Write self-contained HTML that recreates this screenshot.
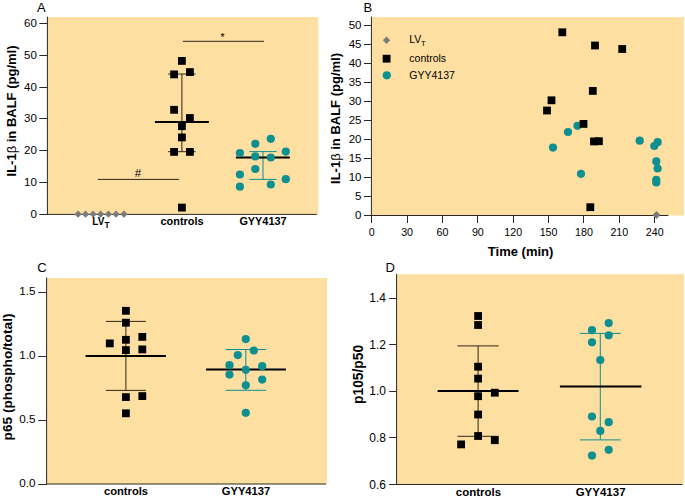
<!DOCTYPE html>
<html><head><meta charset="utf-8"><style>
html,body{margin:0;padding:0;background:#fff;}
body{width:685px;height:498px;overflow:hidden;}
svg{display:block;font-family:"Liberation Sans", sans-serif;}
</style></head><body>
<svg width="685" height="498" viewBox="0 0 685 498">
<rect width="685" height="498" fill="#fff"/>
<rect x="47.4" y="17" width="270.9" height="197.4" fill="#FDDFA1"/>
<line x1="39.3" y1="214.5" x2="47.4" y2="214.5" stroke="#2b2722" stroke-width="1"/>
<text x="36.9" y="218" font-size="11.5" text-anchor="end" font-weight="normal" fill="#000">0</text>
<line x1="39.3" y1="182.5" x2="47.4" y2="182.5" stroke="#2b2722" stroke-width="1"/>
<text x="36.9" y="186.15" font-size="11.5" text-anchor="end" font-weight="normal" fill="#000">10</text>
<line x1="39.3" y1="150.5" x2="47.4" y2="150.5" stroke="#2b2722" stroke-width="1"/>
<text x="36.9" y="154.3" font-size="11.5" text-anchor="end" font-weight="normal" fill="#000">20</text>
<line x1="39.3" y1="118.5" x2="47.4" y2="118.5" stroke="#2b2722" stroke-width="1"/>
<text x="36.9" y="122.45" font-size="11.5" text-anchor="end" font-weight="normal" fill="#000">30</text>
<line x1="39.3" y1="87.5" x2="47.4" y2="87.5" stroke="#2b2722" stroke-width="1"/>
<text x="36.9" y="90.6" font-size="11.5" text-anchor="end" font-weight="normal" fill="#000">40</text>
<line x1="39.3" y1="55.5" x2="47.4" y2="55.5" stroke="#2b2722" stroke-width="1"/>
<text x="36.9" y="58.75" font-size="11.5" text-anchor="end" font-weight="normal" fill="#000">50</text>
<line x1="39.3" y1="23.5" x2="47.4" y2="23.5" stroke="#2b2722" stroke-width="1"/>
<text x="36.9" y="26.9" font-size="11.5" text-anchor="end" font-weight="normal" fill="#000">60</text>
<line x1="47.4" y1="16.6" x2="47.4" y2="214.8" stroke="#2b2722" stroke-width="1"/>
<line x1="47" y1="214.4" x2="316.9" y2="214.4" stroke="#2b2722" stroke-width="1"/>
<text transform="translate(16.2,111) rotate(-90)" font-size="13" text-anchor="middle" font-weight="bold">IL-1<tspan font-weight="normal">&#946;</tspan> in BALF (pg/ml)</text>
<text x="37" y="11.8" font-size="13" text-anchor="start" font-weight="normal" fill="#000">A</text>
<line x1="97.8" y1="179.4" x2="179" y2="179.4" stroke="#2e2619" stroke-width="1"/>
<text x="137.9" y="177.2" font-size="11.5" text-anchor="middle" font-weight="normal" fill="#000">#</text>
<line x1="182.9" y1="41.3" x2="264" y2="41.3" stroke="#2e2619" stroke-width="1"/>
<text x="222.5" y="41.2" font-size="10.5" text-anchor="middle" font-weight="normal" fill="#000">*</text>
<line x1="181.9" y1="74" x2="181.9" y2="151.7" stroke="#2e2619" stroke-width="1"/>
<line x1="168.2" y1="74" x2="195.6" y2="74" stroke="#2e2619" stroke-width="1"/>
<line x1="168.2" y1="151.7" x2="195.6" y2="151.7" stroke="#2e2619" stroke-width="1"/>
<line x1="154.9" y1="122.1" x2="208.9" y2="122.1" stroke="#000" stroke-width="2"/>
<rect x="178" y="57" width="7.8" height="7.8" fill="#000"/>
<rect x="170.2" y="70.5" width="7.8" height="7.8" fill="#000"/>
<rect x="186" y="68.2" width="7.8" height="7.8" fill="#000"/>
<rect x="170.2" y="105.9" width="7.8" height="7.8" fill="#000"/>
<rect x="186" y="114.1" width="7.8" height="7.8" fill="#000"/>
<rect x="178" y="122.3" width="7.8" height="7.8" fill="#000"/>
<rect x="178" y="133.5" width="7.8" height="7.8" fill="#000"/>
<rect x="170.2" y="148" width="7.8" height="7.8" fill="#000"/>
<rect x="186" y="148" width="7.8" height="7.8" fill="#000"/>
<rect x="178" y="203.7" width="7.8" height="7.8" fill="#000"/>
<line x1="263" y1="151.6" x2="263" y2="179.4" stroke="#0E9090" stroke-width="1"/>
<line x1="249.35" y1="151.6" x2="276.65" y2="151.6" stroke="#0E9090" stroke-width="1"/>
<line x1="249.35" y1="179.4" x2="276.65" y2="179.4" stroke="#0E9090" stroke-width="1"/>
<line x1="235.9" y1="157.5" x2="289.8" y2="157.5" stroke="#000" stroke-width="2"/>
<circle cx="239.9" cy="153.1" r="4.1" fill="#0E9090"/>
<circle cx="255.3" cy="143.8" r="4.1" fill="#0E9090"/>
<circle cx="270.8" cy="138.8" r="4.1" fill="#0E9090"/>
<circle cx="285.8" cy="151.6" r="4.1" fill="#0E9090"/>
<circle cx="255.3" cy="156.4" r="4.1" fill="#0E9090"/>
<circle cx="270.8" cy="157.5" r="4.1" fill="#0E9090"/>
<circle cx="255.3" cy="169" r="4.1" fill="#0E9090"/>
<circle cx="239.9" cy="174.5" r="4.1" fill="#0E9090"/>
<circle cx="239.9" cy="186.7" r="4.1" fill="#0E9090"/>
<circle cx="270.8" cy="184.5" r="4.1" fill="#0E9090"/>
<circle cx="285.8" cy="179.2" r="4.1" fill="#0E9090"/>
<path d="M74.5 214.2L78.1 210.6L81.7 214.2L78.1 217.8Z" fill="#7B7B7B"/>
<path d="M81.9 214.2L85.5 210.6L89.1 214.2L85.5 217.8Z" fill="#7B7B7B"/>
<path d="M89.5 214.2L93.1 210.6L96.7 214.2L93.1 217.8Z" fill="#7B7B7B"/>
<path d="M97 214.2L100.6 210.6L104.2 214.2L100.6 217.8Z" fill="#7B7B7B"/>
<path d="M104.8 214.2L108.4 210.6L112 214.2L108.4 217.8Z" fill="#7B7B7B"/>
<path d="M112.4 214.2L116 210.6L119.6 214.2L116 217.8Z" fill="#7B7B7B"/>
<path d="M120.3 214.2L123.9 210.6L127.5 214.2L123.9 217.8Z" fill="#7B7B7B"/>
<text x="92.3" y="224.9" font-size="10" text-anchor="start" font-weight="bold" fill="#000">LV</text>
<text x="104.6" y="228" font-size="8.4" text-anchor="start" font-weight="bold" fill="#000">T</text>
<text x="182" y="225.1" font-size="10.9" text-anchor="middle" font-weight="bold" fill="#000">controls</text>
<text x="263" y="225.1" font-size="10.9" text-anchor="middle" font-weight="bold" fill="#000">GYY4137</text>
<rect x="371.4" y="17" width="312.6" height="198.5" fill="#FDDFA1"/>
<line x1="364" y1="215.5" x2="371.4" y2="215.5" stroke="#2b2722" stroke-width="1"/>
<text x="361.5" y="219.1" font-size="11.5" text-anchor="end" font-weight="normal" fill="#000">0</text>
<line x1="364" y1="196.5" x2="371.4" y2="196.5" stroke="#2b2722" stroke-width="1"/>
<text x="361.5" y="200.09" font-size="11.5" text-anchor="end" font-weight="normal" fill="#000">5</text>
<line x1="364" y1="177.5" x2="371.4" y2="177.5" stroke="#2b2722" stroke-width="1"/>
<text x="361.5" y="181.08" font-size="11.5" text-anchor="end" font-weight="normal" fill="#000">10</text>
<line x1="364" y1="158.5" x2="371.4" y2="158.5" stroke="#2b2722" stroke-width="1"/>
<text x="361.5" y="162.07" font-size="11.5" text-anchor="end" font-weight="normal" fill="#000">15</text>
<line x1="364" y1="139.5" x2="371.4" y2="139.5" stroke="#2b2722" stroke-width="1"/>
<text x="361.5" y="143.06" font-size="11.5" text-anchor="end" font-weight="normal" fill="#000">20</text>
<line x1="364" y1="120.5" x2="371.4" y2="120.5" stroke="#2b2722" stroke-width="1"/>
<text x="361.5" y="124.05" font-size="11.5" text-anchor="end" font-weight="normal" fill="#000">25</text>
<line x1="364" y1="101.5" x2="371.4" y2="101.5" stroke="#2b2722" stroke-width="1"/>
<text x="361.5" y="105.04" font-size="11.5" text-anchor="end" font-weight="normal" fill="#000">30</text>
<line x1="364" y1="82.5" x2="371.4" y2="82.5" stroke="#2b2722" stroke-width="1"/>
<text x="361.5" y="86.03" font-size="11.5" text-anchor="end" font-weight="normal" fill="#000">35</text>
<line x1="364" y1="63.5" x2="371.4" y2="63.5" stroke="#2b2722" stroke-width="1"/>
<text x="361.5" y="67.02" font-size="11.5" text-anchor="end" font-weight="normal" fill="#000">40</text>
<line x1="364" y1="44.5" x2="371.4" y2="44.5" stroke="#2b2722" stroke-width="1"/>
<text x="361.5" y="48.01" font-size="11.5" text-anchor="end" font-weight="normal" fill="#000">45</text>
<line x1="364" y1="25.5" x2="371.4" y2="25.5" stroke="#2b2722" stroke-width="1"/>
<text x="361.5" y="29" font-size="11.5" text-anchor="end" font-weight="normal" fill="#000">50</text>
<line x1="371.5" y1="215.5" x2="371.5" y2="223" stroke="#2b2722" stroke-width="1"/>
<text x="371.7" y="235.5" font-size="10.7" text-anchor="middle" font-weight="normal" fill="#000">0</text>
<line x1="407.5" y1="215.5" x2="407.5" y2="223" stroke="#2b2722" stroke-width="1"/>
<text x="407.08" y="235.5" font-size="10.7" text-anchor="middle" font-weight="normal" fill="#000">30</text>
<line x1="442.5" y1="215.5" x2="442.5" y2="223" stroke="#2b2722" stroke-width="1"/>
<text x="442.45" y="235.5" font-size="10.7" text-anchor="middle" font-weight="normal" fill="#000">60</text>
<line x1="477.5" y1="215.5" x2="477.5" y2="223" stroke="#2b2722" stroke-width="1"/>
<text x="477.83" y="235.5" font-size="10.7" text-anchor="middle" font-weight="normal" fill="#000">90</text>
<line x1="513.5" y1="215.5" x2="513.5" y2="223" stroke="#2b2722" stroke-width="1"/>
<text x="513.2" y="235.5" font-size="10.7" text-anchor="middle" font-weight="normal" fill="#000">120</text>
<line x1="548.5" y1="215.5" x2="548.5" y2="223" stroke="#2b2722" stroke-width="1"/>
<text x="548.58" y="235.5" font-size="10.7" text-anchor="middle" font-weight="normal" fill="#000">150</text>
<line x1="583.5" y1="215.5" x2="583.5" y2="223" stroke="#2b2722" stroke-width="1"/>
<text x="583.96" y="235.5" font-size="10.7" text-anchor="middle" font-weight="normal" fill="#000">180</text>
<line x1="619.5" y1="215.5" x2="619.5" y2="223" stroke="#2b2722" stroke-width="1"/>
<text x="619.33" y="235.5" font-size="10.7" text-anchor="middle" font-weight="normal" fill="#000">210</text>
<line x1="654.5" y1="215.5" x2="654.5" y2="223" stroke="#2b2722" stroke-width="1"/>
<text x="654.71" y="235.5" font-size="10.7" text-anchor="middle" font-weight="normal" fill="#000">240</text>
<line x1="371.4" y1="16.6" x2="371.4" y2="215.8" stroke="#2b2722" stroke-width="1"/>
<line x1="371" y1="215.5" x2="668.4" y2="215.5" stroke="#2b2722" stroke-width="1"/>
<text transform="translate(340.3,118.5) rotate(-90)" font-size="13" text-anchor="middle" font-weight="bold">IL-1<tspan font-weight="normal">&#946;</tspan> in BALF (pg/ml)</text>
<text x="520.6" y="255.5" font-size="13" text-anchor="middle" font-weight="bold" fill="#000">Time (min)</text>
<text x="363.5" y="11.7" font-size="13" text-anchor="start" font-weight="normal" fill="#000">B</text>
<path d="M382.8 40.2L386.5 36.5L390.2 40.2L386.5 43.9Z" fill="#7B7B7B"/>
<rect x="382.7" y="54.8" width="7.8" height="7.8" fill="#000"/>
<circle cx="386.8" cy="75.3" r="4.1" fill="#0E9090"/>
<text x="409.3" y="43.4" font-size="10.5" text-anchor="start" font-weight="normal" fill="#000">LV</text>
<text x="421.1" y="46.1" font-size="7.6" text-anchor="start" font-weight="normal" fill="#000">T</text>
<text x="409.3" y="62.1" font-size="10.5" text-anchor="start" font-weight="normal" fill="#000">controls</text>
<text x="409.3" y="78.8" font-size="10.5" text-anchor="start" font-weight="normal" fill="#000">GYY4137</text>
<circle cx="553" cy="147.6" r="4.1" fill="#0E9090"/>
<circle cx="568" cy="132" r="4.1" fill="#0E9090"/>
<circle cx="577.5" cy="125.8" r="4.1" fill="#0E9090"/>
<circle cx="581" cy="173.8" r="4.1" fill="#0E9090"/>
<circle cx="639.7" cy="140.7" r="4.1" fill="#0E9090"/>
<circle cx="657.6" cy="142.2" r="4.1" fill="#0E9090"/>
<circle cx="654.3" cy="146" r="4.1" fill="#0E9090"/>
<circle cx="656.3" cy="161.4" r="4.1" fill="#0E9090"/>
<circle cx="657.6" cy="168.5" r="4.1" fill="#0E9090"/>
<circle cx="656.3" cy="179.8" r="4.1" fill="#0E9090"/>
<circle cx="656.3" cy="182.4" r="4.1" fill="#0E9090"/>
<rect x="558.4" y="28.4" width="7.8" height="7.8" fill="#000"/>
<rect x="591.1" y="41.6" width="7.8" height="7.8" fill="#000"/>
<rect x="618.3" y="45.1" width="7.8" height="7.8" fill="#000"/>
<rect x="588.9" y="87" width="7.8" height="7.8" fill="#000"/>
<rect x="547.6" y="96.4" width="7.8" height="7.8" fill="#000"/>
<rect x="543.1" y="106.6" width="7.8" height="7.8" fill="#000"/>
<rect x="579.6" y="120" width="7.8" height="7.8" fill="#000"/>
<rect x="590.1" y="137.5" width="7.8" height="7.8" fill="#000"/>
<rect x="595" y="137.3" width="7.8" height="7.8" fill="#000"/>
<rect x="586.4" y="203.3" width="7.8" height="7.8" fill="#000"/>
<path d="M652.5 215L656.5 211L660.5 215L656.5 219Z" fill="#7B7B7B"/>
<rect x="46.6" y="278" width="280.4" height="206" fill="#FDDFA1"/>
<line x1="38.2" y1="484.5" x2="46.6" y2="484.5" stroke="#2b2722" stroke-width="1"/>
<text x="35.4" y="487.2" font-size="11.7" text-anchor="end" font-weight="normal" fill="#000">0.0</text>
<line x1="38.2" y1="420.5" x2="46.6" y2="420.5" stroke="#2b2722" stroke-width="1"/>
<text x="35.4" y="423.23" font-size="11.7" text-anchor="end" font-weight="normal" fill="#000">0.5</text>
<line x1="38.2" y1="356.5" x2="46.6" y2="356.5" stroke="#2b2722" stroke-width="1"/>
<text x="35.4" y="359.27" font-size="11.7" text-anchor="end" font-weight="normal" fill="#000">1.0</text>
<line x1="38.2" y1="292.5" x2="46.6" y2="292.5" stroke="#2b2722" stroke-width="1"/>
<text x="35.4" y="295.31" font-size="11.7" text-anchor="end" font-weight="normal" fill="#000">1.5</text>
<line x1="46.6" y1="277.6" x2="46.6" y2="484.5" stroke="#2b2722" stroke-width="1"/>
<line x1="46" y1="484" x2="326" y2="484" stroke="#2b2722" stroke-width="1"/>
<text transform="translate(12,377) rotate(-90)" font-size="13.7" text-anchor="middle" font-weight="bold">p65 (phospho/total)</text>
<text x="37.2" y="272" font-size="13" text-anchor="start" font-weight="normal" fill="#000">C</text>
<line x1="125.9" y1="321.4" x2="125.9" y2="390.4" stroke="#2e2619" stroke-width="1"/>
<line x1="105.9" y1="321.4" x2="145.9" y2="321.4" stroke="#2e2619" stroke-width="1"/>
<line x1="105.9" y1="390.4" x2="145.9" y2="390.4" stroke="#2e2619" stroke-width="1"/>
<line x1="85.6" y1="355.9" x2="165.9" y2="355.9" stroke="#000" stroke-width="2"/>
<rect x="122" y="306.9" width="7.8" height="7.8" fill="#000"/>
<rect x="122" y="318.8" width="7.8" height="7.8" fill="#000"/>
<rect x="138.4" y="333" width="7.8" height="7.8" fill="#000"/>
<rect x="105.9" y="339.5" width="7.8" height="7.8" fill="#000"/>
<rect x="122" y="335.9" width="7.8" height="7.8" fill="#000"/>
<rect x="122" y="346.2" width="7.8" height="7.8" fill="#000"/>
<rect x="138.4" y="345.5" width="7.8" height="7.8" fill="#000"/>
<rect x="122" y="393.2" width="7.8" height="7.8" fill="#000"/>
<rect x="138.4" y="392.2" width="7.8" height="7.8" fill="#000"/>
<rect x="122" y="409.4" width="7.8" height="7.8" fill="#000"/>
<line x1="245.8" y1="349.5" x2="245.8" y2="390.3" stroke="#0E9090" stroke-width="1"/>
<line x1="225.5" y1="349.5" x2="266.1" y2="349.5" stroke="#0E9090" stroke-width="1"/>
<line x1="225.5" y1="390.3" x2="266.1" y2="390.3" stroke="#0E9090" stroke-width="1"/>
<line x1="206" y1="369.6" x2="285.9" y2="369.6" stroke="#000" stroke-width="2"/>
<circle cx="245.8" cy="339.1" r="4.1" fill="#0E9090"/>
<circle cx="253.8" cy="350.5" r="4.1" fill="#0E9090"/>
<circle cx="237.8" cy="355.1" r="4.1" fill="#0E9090"/>
<circle cx="229.5" cy="365.2" r="4.1" fill="#0E9090"/>
<circle cx="245.8" cy="369.8" r="4.1" fill="#0E9090"/>
<circle cx="262.2" cy="366.2" r="4.1" fill="#0E9090"/>
<circle cx="229.5" cy="374.6" r="4.1" fill="#0E9090"/>
<circle cx="262.2" cy="379.6" r="4.1" fill="#0E9090"/>
<circle cx="245.8" cy="385.3" r="4.1" fill="#0E9090"/>
<circle cx="245.8" cy="412.8" r="4.1" fill="#0E9090"/>
<text x="126" y="494.9" font-size="11.2" text-anchor="middle" font-weight="bold" fill="#000">controls</text>
<text x="246" y="494.9" font-size="11.2" text-anchor="middle" font-weight="bold" fill="#000">GYY4137</text>
<rect x="396.6" y="274.3" width="287.4" height="209.9" fill="#FDDFA1"/>
<line x1="389.2" y1="484.5" x2="396.8" y2="484.5" stroke="#2b2722" stroke-width="1"/>
<text x="385.9" y="488.5" font-size="12" text-anchor="end" font-weight="normal" fill="#000">0.6</text>
<line x1="389.2" y1="437.5" x2="396.8" y2="437.5" stroke="#2b2722" stroke-width="1"/>
<text x="385.9" y="441.97" font-size="12" text-anchor="end" font-weight="normal" fill="#000">0.8</text>
<line x1="389.2" y1="391.5" x2="396.8" y2="391.5" stroke="#2b2722" stroke-width="1"/>
<text x="385.9" y="395.45" font-size="12" text-anchor="end" font-weight="normal" fill="#000">1.0</text>
<line x1="389.2" y1="344.5" x2="396.8" y2="344.5" stroke="#2b2722" stroke-width="1"/>
<text x="385.9" y="348.93" font-size="12" text-anchor="end" font-weight="normal" fill="#000">1.2</text>
<line x1="389.2" y1="298.5" x2="396.8" y2="298.5" stroke="#2b2722" stroke-width="1"/>
<text x="385.9" y="302.4" font-size="12" text-anchor="end" font-weight="normal" fill="#000">1.4</text>
<line x1="396.6" y1="274" x2="396.6" y2="485" stroke="#2b2722" stroke-width="1"/>
<line x1="396.1" y1="484.5" x2="682.5" y2="484.5" stroke="#2b2722" stroke-width="1"/>
<text transform="translate(362.8,374.4) rotate(-90)" font-size="13.8" text-anchor="middle" font-weight="bold">p105/p50</text>
<text x="385.6" y="272.1" font-size="13" text-anchor="start" font-weight="normal" fill="#000">D</text>
<line x1="478.1" y1="345.9" x2="478.1" y2="436.3" stroke="#2e2619" stroke-width="1"/>
<line x1="457.55" y1="345.9" x2="498.65" y2="345.9" stroke="#2e2619" stroke-width="1"/>
<line x1="457.55" y1="436.3" x2="498.65" y2="436.3" stroke="#2e2619" stroke-width="1"/>
<line x1="437.6" y1="391.1" x2="518.5" y2="391.1" stroke="#000" stroke-width="2"/>
<rect x="474.2" y="312.1" width="7.8" height="7.8" fill="#000"/>
<rect x="474.2" y="321.1" width="7.8" height="7.8" fill="#000"/>
<rect x="474.2" y="362.8" width="7.8" height="7.8" fill="#000"/>
<rect x="474.2" y="374.7" width="7.8" height="7.8" fill="#000"/>
<rect x="490.9" y="388.8" width="7.8" height="7.8" fill="#000"/>
<rect x="474.2" y="392.3" width="7.8" height="7.8" fill="#000"/>
<rect x="474.2" y="410.6" width="7.8" height="7.8" fill="#000"/>
<rect x="474.2" y="432.1" width="7.8" height="7.8" fill="#000"/>
<rect x="490.9" y="436.3" width="7.8" height="7.8" fill="#000"/>
<rect x="457.2" y="440.5" width="7.8" height="7.8" fill="#000"/>
<line x1="600.3" y1="333.4" x2="600.3" y2="439.9" stroke="#0E9090" stroke-width="1"/>
<line x1="579.8" y1="333.4" x2="620.8" y2="333.4" stroke="#0E9090" stroke-width="1"/>
<line x1="579.8" y1="439.9" x2="620.8" y2="439.9" stroke="#0E9090" stroke-width="1"/>
<line x1="559.9" y1="386.6" x2="641.4" y2="386.6" stroke="#000" stroke-width="2"/>
<circle cx="608.7" cy="323.1" r="4.1" fill="#0E9090"/>
<circle cx="592" cy="330.2" r="4.1" fill="#0E9090"/>
<circle cx="608.7" cy="335.3" r="4.1" fill="#0E9090"/>
<circle cx="592" cy="342.3" r="4.1" fill="#0E9090"/>
<circle cx="600.3" cy="360" r="4.1" fill="#0E9090"/>
<circle cx="592" cy="416.5" r="4.1" fill="#0E9090"/>
<circle cx="608.7" cy="422.2" r="4.1" fill="#0E9090"/>
<circle cx="600.3" cy="430.9" r="4.1" fill="#0E9090"/>
<circle cx="608.7" cy="449.8" r="4.1" fill="#0E9090"/>
<circle cx="592" cy="455.6" r="4.1" fill="#0E9090"/>
<text x="478.5" y="495.6" font-size="11.5" text-anchor="middle" font-weight="bold" fill="#000">controls</text>
<text x="600.6" y="495.6" font-size="11.5" text-anchor="middle" font-weight="bold" fill="#000">GYY4137</text>
</svg>
</body></html>
